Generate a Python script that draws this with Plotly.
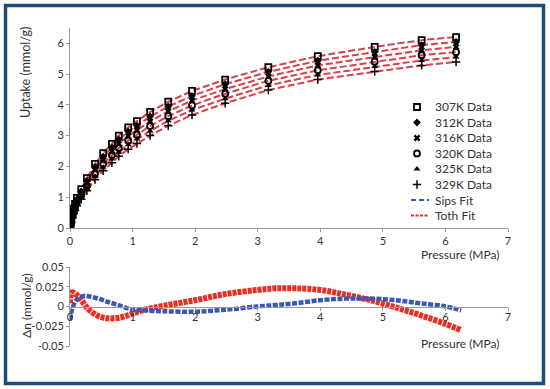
import plotly.graph_objects as go

# ---------------- data ----------------
PRESSURE = [0.01, 0.02, 0.04, 0.06, 0.08, 0.11, 0.18, 0.27, 0.40, 0.53, 0.67, 0.78,
            0.93, 1.07, 1.28, 1.57, 1.95, 2.48, 3.17, 3.96, 4.87, 5.62, 6.17]

UPTAKE_307K = [0.13, 0.26, 0.46, 0.63, 0.78, 0.98, 1.26, 1.62, 2.08, 2.43, 2.73, 3.00,
               3.27, 3.47, 3.77, 4.10, 4.45, 4.82, 5.22, 5.58, 5.88, 6.10, 6.20]
UPTAKE_312K = [0.12, 0.25, 0.43, 0.60, 0.74, 0.93, 1.19, 1.54, 1.98, 2.32, 2.61, 2.87,
               3.13, 3.32, 3.62, 3.94, 4.29, 4.67, 5.07, 5.43, 5.72, 5.94, 6.04]
UPTAKE_316K = [0.11, 0.23, 0.41, 0.56, 0.70, 0.88, 1.13, 1.46, 1.88, 2.20, 2.49, 2.73,
               2.99, 3.18, 3.46, 3.79, 4.14, 4.51, 4.92, 5.28, 5.56, 5.77, 5.88]
UPTAKE_320K = [0.11, 0.22, 0.38, 0.53, 0.65, 0.82, 1.06, 1.37, 1.77, 2.09, 2.36, 2.60,
               2.84, 3.03, 3.31, 3.63, 3.98, 4.36, 4.78, 5.12, 5.40, 5.61, 5.71]
UPTAKE_325K = [0.10, 0.20, 0.36, 0.49, 0.61, 0.77, 1.00, 1.29, 1.67, 1.97, 2.24, 2.46,
               2.70, 2.89, 3.15, 3.48, 3.83, 4.20, 4.63, 4.97, 5.24, 5.44, 5.55]
UPTAKE_329K = [0.09, 0.19, 0.33, 0.46, 0.57, 0.72, 0.93, 1.21, 1.57, 1.86, 2.12, 2.33,
               2.56, 2.74, 3.00, 3.32, 3.67, 4.05, 4.48, 4.82, 5.08, 5.28, 5.39]

SERIES_NAMES = ["307K Data", "312K Data", "316K Data", "320K Data", "325K Data", "329K Data"]
SERIES_VALUES = [UPTAKE_307K, UPTAKE_312K, UPTAKE_316K, UPTAKE_320K, UPTAKE_325K, UPTAKE_329K]

P_RESIDUAL = [0.0, 0.03, 0.1, 0.2, 0.3, 0.45, 0.6, 0.8, 1.0, 1.2, 1.5, 2.0, 2.5,
              3.0, 3.3, 3.6, 4.0, 4.4, 4.8, 5.2, 5.6, 6.0, 6.25]
TOTH_RESIDUAL = [0.004, 0.018, 0.015, 0.006, -0.004, -0.012, -0.015, -0.014, -0.009,
                 -0.004, 0.001, 0.008, 0.016, 0.021, 0.023, 0.023, 0.021, 0.015, 0.008,
                 -0.001, -0.011, -0.022, -0.030]
SIPS_RESIDUAL = [-0.017, -0.005, 0.008, 0.013, 0.013, 0.010, 0.006, 0.001, -0.004,
                 -0.005, -0.006, -0.0065, -0.004, 0.0, 0.002, 0.004, 0.008, 0.010, 0.010,
                 0.008, 0.004, 0.0, -0.005]

X_TICKS = [0, 1, 2, 3, 4, 5, 6, 7]
UPTAKE_TICKS = [0, 1, 2, 3, 4, 5, 6]
DN_TICKS = [-0.05, -0.025, 0, 0.025, 0.05]
DN_TICK_TEXT = ["-0.05", "-0.025", "0", "0.025", "0.05"]

# ---------------- styling ----------------
W, H = 550, 389
FONT = "Lato"
TXT = "#333333"
AX = "#9a9a9a"
TOTH_TOP = "#d6404a"
TOTH_RED = "#ec2d22"
SIPS_BLUE = "#3a58b3"
SYMBOLS = [
    dict(symbol="square-open", size=6, line=dict(width=1.8, color="black")),
    dict(symbol="diamond", size=6, line=dict(width=0)),
    dict(symbol="x", size=6, line=dict(width=0)),
    dict(symbol="circle-open", size=6, line=dict(width=1.8, color="black")),
    dict(symbol="triangle-up", size=6, line=dict(width=0)),
    dict(symbol="cross-thin", size=6, line=dict(width=1.5, color="black")),
]


def px(x):
    return x / W


def py(y):
    return 1 - y / H


fig = go.Figure()

# Toth fit lines (top panel)
for vals in SERIES_VALUES:
    fig.add_trace(go.Scatter(
        x=PRESSURE, y=vals, mode="lines", xaxis="x", yaxis="y",
        line=dict(color=TOTH_TOP, width=2, dash="7px,3px"),
        showlegend=False, hoverinfo="skip"))

# data markers (top panel)
for name, vals, sym in zip(SERIES_NAMES, SERIES_VALUES, SYMBOLS):
    fig.add_trace(go.Scatter(
        x=PRESSURE, y=vals, mode="markers", name=name, xaxis="x", yaxis="y",
        marker=dict(color="black", **sym), showlegend=False))

# residuals (bottom panel)
fig.add_trace(go.Scatter(
    x=P_RESIDUAL, y=TOTH_RESIDUAL, mode="lines", name="Toth Fit", xaxis="x2", yaxis="y2",
    line=dict(color=TOTH_RED, width=6, dash="4px,1px", shape="spline"), showlegend=False))
fig.add_trace(go.Scatter(
    x=P_RESIDUAL, y=SIPS_RESIDUAL, mode="lines", name="Sips Fit", xaxis="x2", yaxis="y2",
    line=dict(color=SIPS_BLUE, width=4.5, dash="5px,1.5px", shape="spline"), showlegend=False))

# manual legend symbols on a pixel overlay
LEG_X = 417
LEG_Y = [107, 122.5, 138, 153.5, 169, 184.5, 200, 215.5]
for i, sym in enumerate(SYMBOLS):
    fig.add_trace(go.Scatter(
        x=[LEG_X], y=[LEG_Y[i]], mode="markers", xaxis="x3", yaxis="y3",
        marker=dict(color="black", **sym), showlegend=False, hoverinfo="skip"))

axis_common = dict(showline=True, linecolor=AX, linewidth=1, ticks="outside",
                   ticklen=3, tickcolor=AX, showgrid=False, zeroline=False,
                   automargin=False,
                   tickfont=dict(family=FONT, size=11, color=TXT))

fig.update_layout(
    width=W, height=H,
    margin=dict(l=0, r=0, t=0, b=0, autoexpand=False),
    paper_bgcolor="white", plot_bgcolor="rgba(0,0,0,0)",
    showlegend=False,
    xaxis=dict(domain=[px(70), px(508)], range=[0, 7], tickvals=X_TICKS,
               anchor="y", **axis_common),
    yaxis=dict(domain=[py(228), py(27.8)], range=[0, 6.5], tickvals=UPTAKE_TICKS,
               anchor="x", **axis_common),
    xaxis2=dict(domain=[px(70), px(508)], range=[0, 7], tickvals=X_TICKS,
                anchor="free", position=py(307), ticklabelstandoff=-3, **axis_common),
    yaxis2=dict(domain=[py(346), py(267)], range=[-0.05, 0.05], tickvals=DN_TICKS,
                ticktext=DN_TICK_TEXT, anchor="x2", **axis_common),
    xaxis3=dict(domain=[0, 1], range=[0, W], visible=False, anchor="y3", automargin=False),
    yaxis3=dict(domain=[0, 1], range=[H, 0], visible=False, anchor="x3", automargin=False),
)

ann = []
lab = dict(family=FONT, size=12, color=TXT)
ann.append(dict(text="Uptake (mmol/g)", x=px(26), y=py(73), xref="paper", yref="paper",
                xanchor="center", yanchor="middle",
                textangle=-90, showarrow=False, font=dict(family=FONT, size=12.5, color=TXT)))
ann.append(dict(text="Δn (mmol/g)", x=px(26), y=py(306), xref="paper", yref="paper",
                xanchor="center", yanchor="middle",
                textangle=-90, showarrow=False, font=lab))
ann.append(dict(text="Pressure (MPa)", x=px(501), y=py(254), xref="paper", yref="paper",
                xanchor="right", yanchor="middle", showarrow=False, font=lab))
ann.append(dict(text="Pressure (MPa)", x=px(501), y=py(343), xref="paper", yref="paper",
                xanchor="right", yanchor="middle", showarrow=False, font=lab))
LEG_TEXT = SERIES_NAMES + ["Sips Fit", "Toth Fit"]
for t, yy in zip(LEG_TEXT, LEG_Y):
    ann.append(dict(text=t, x=px(433), y=py(yy), xref="paper", yref="paper",
                    xanchor="left", yanchor="middle", showarrow=False, font=lab))
fig.update_layout(annotations=ann)

shapes = [
    dict(type="rect", xref="paper", yref="paper", x0=px(5.5), x1=px(543.5),
         y0=py(383.5), y1=py(5.5), line=dict(color="#1c4b7c", width=3.5)),
    dict(type="line", xref="paper", yref="paper", x0=px(411), x1=px(429),
         y0=py(LEG_Y[6]), y1=py(LEG_Y[6]), line=dict(color=SIPS_BLUE, width=2, dash="5px,3px")),
    dict(type="line", xref="paper", yref="paper", x0=px(411), x1=px(429),
         y0=py(LEG_Y[7]), y1=py(LEG_Y[7]), line=dict(color=TOTH_RED, width=2, dash="3px,1.5px")),
]
fig.update_layout(shapes=shapes)

fig.write_html("out.html", config={"displayModeBar": False},
               post_script="document.body.style.margin='0px';document.body.style.overflow='hidden';")
